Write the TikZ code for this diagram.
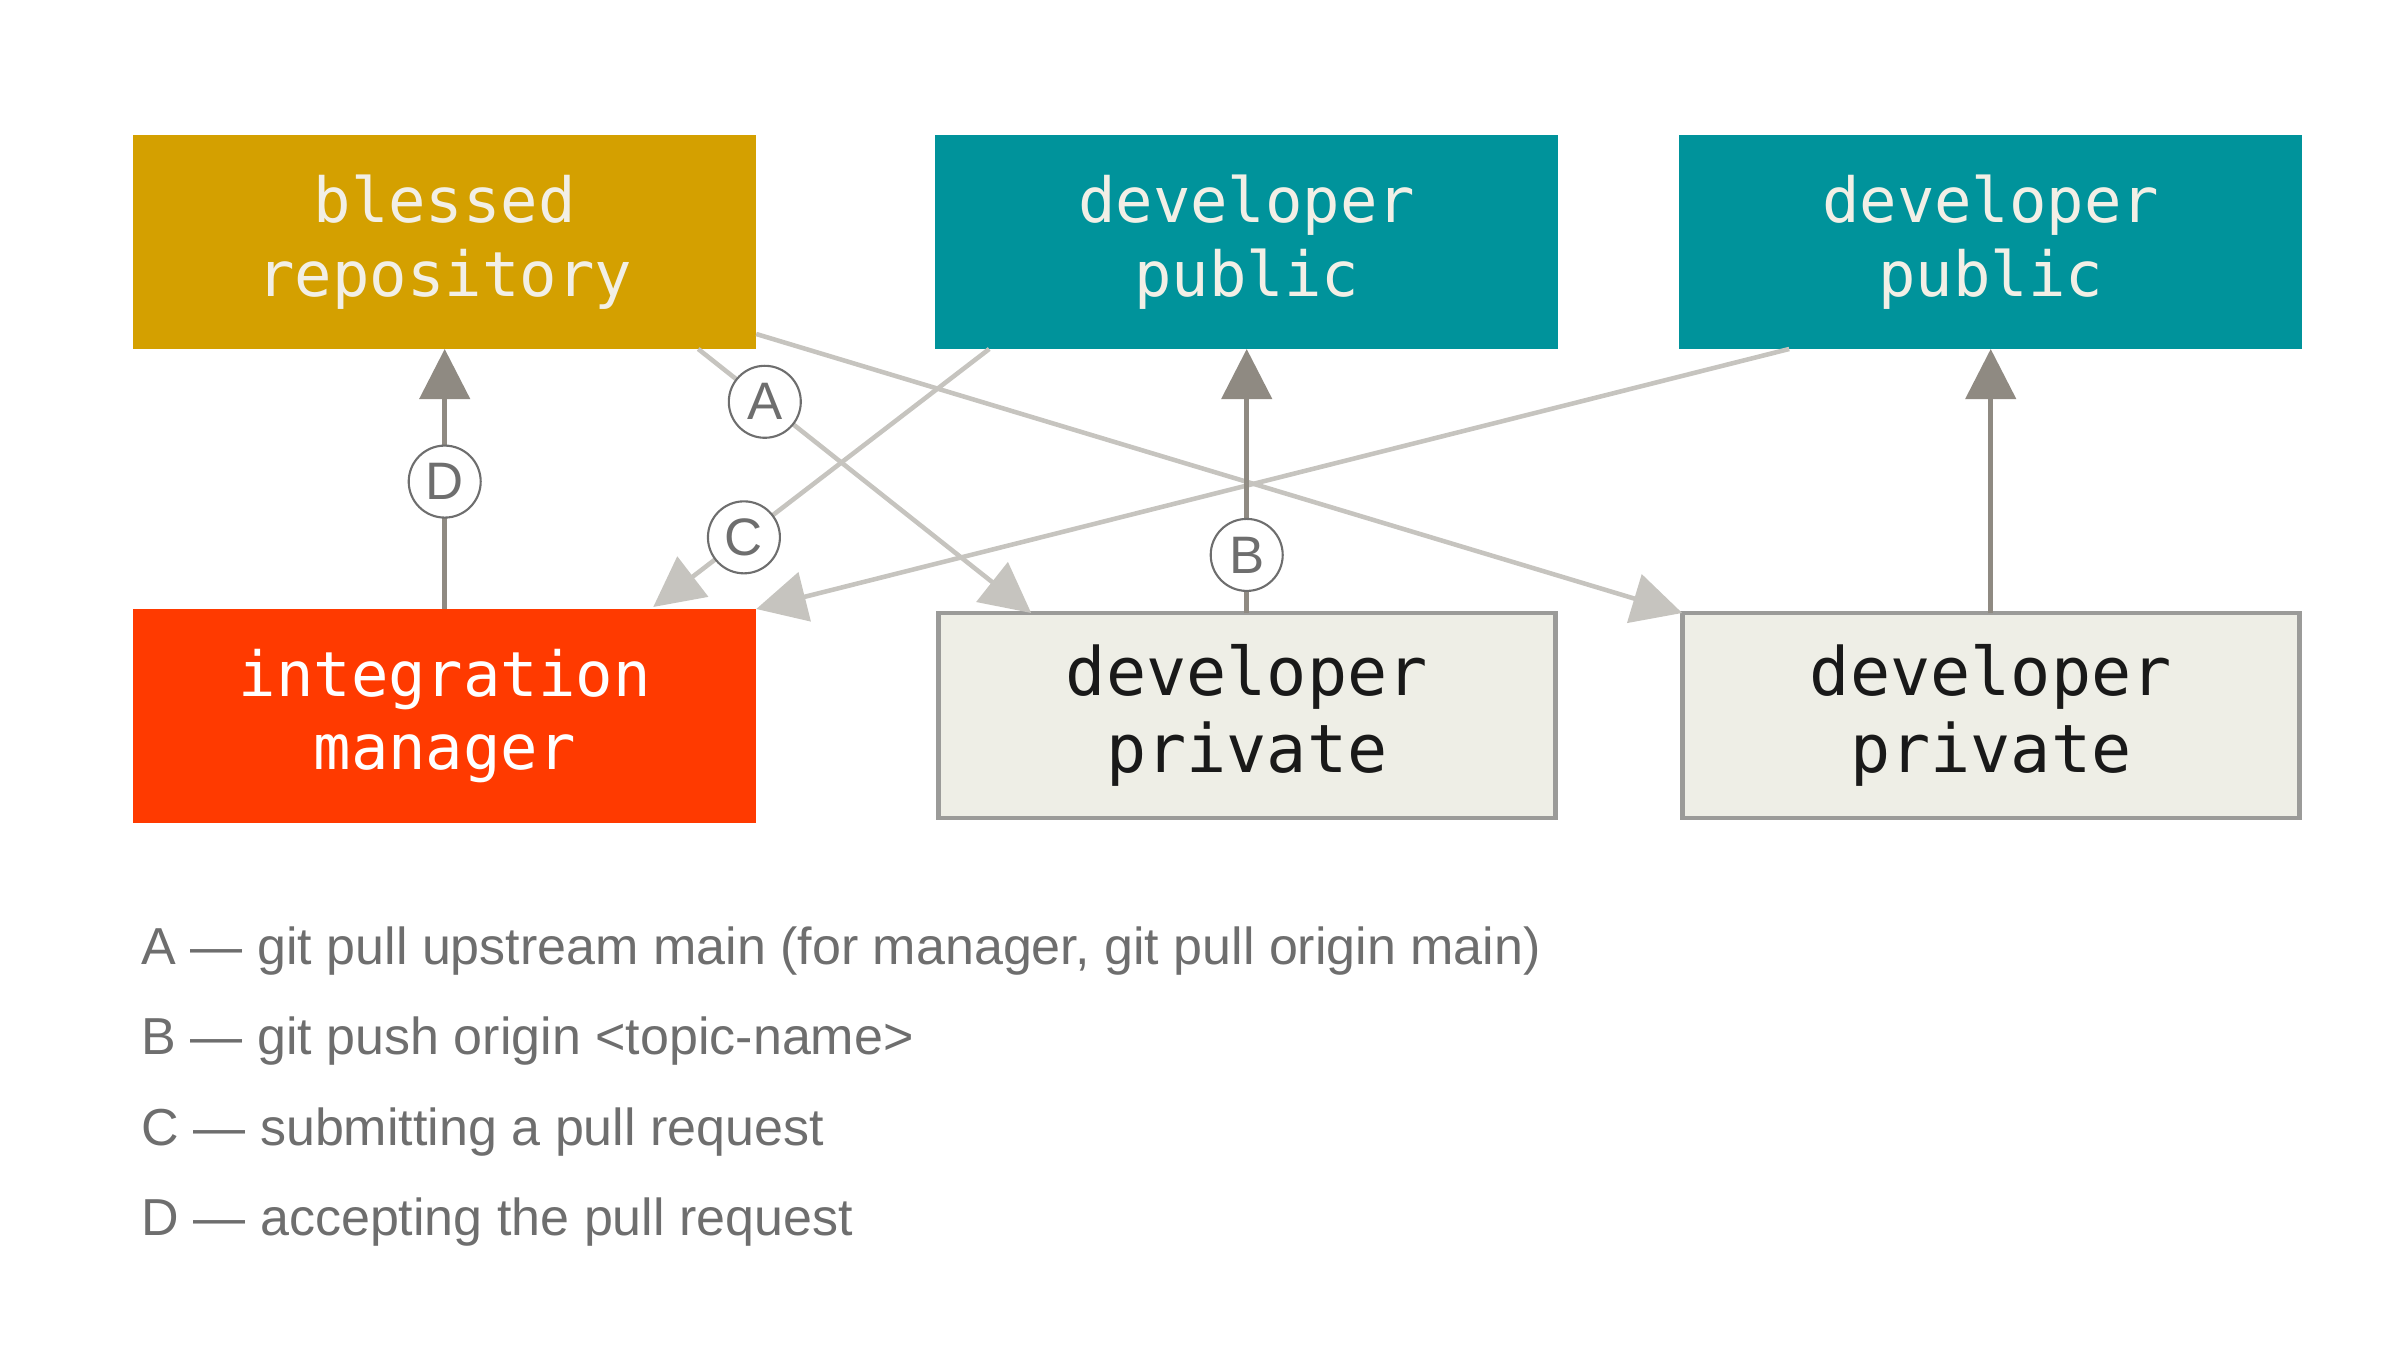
\documentclass[tikz,border=0pt]{standalone}
\usepackage{fontspec}
\usepackage{tikz}
\usetikzlibrary{positioning,arrows.meta}
\setmainfont{Liberation Sans}
\newfontfamily\boxfont{DejaVu Sans Mono}
\definecolor{blessedcol}{HTML}{D4A000}
\definecolor{publiccol}{HTML}{00939B}
\definecolor{managercol}{HTML}{FF3A00}
\definecolor{privatecol}{HTML}{EEEEE6}
\definecolor{privateline}{HTML}{9B9B99}
\definecolor{darkarrow}{HTML}{8F8A82}
\definecolor{lightarrow}{HTML}{C6C4BF}
\definecolor{labelgray}{HTML}{6E6E6E}
\definecolor{boxtext}{HTML}{F2EFE6}
\tikzstyle{repo} = [rectangle, minimum width=6.23cm, minimum height=2.14cm, inner sep=0pt, outer sep=0pt, align=center, font=\boxfont\fontsize{17.7}{21}\selectfont]
\tikzstyle{blessedbox} = [repo, fill=blessedcol, text=boxtext]
\tikzstyle{publicbox} = [repo, fill=publiccol, text=boxtext]
\tikzstyle{managerbox} = [repo, fill=managercol, text=white]
\tikzstyle{privatebox} = [repo, fill=privatecol, draw=privateline, line width=1.4pt, text=black!90, minimum width=6.17cm, minimum height=2.05cm, font=\boxfont\fontsize{19}{22}\selectfont]
\tikzstyle{letter} = [circle, draw=labelgray, fill=white, line width=0.6pt, minimum size=0.72cm, inner sep=0pt, text=labelgray, font=\fontsize{15}{15}\selectfont]
\tikzstyle{dark} = [draw=darkarrow, line width=1.3pt]
\tikzstyle{light} = [draw=lightarrow, line width=1.3pt]
\tikzstyle{legend} = [anchor=base west, inner sep=0pt, text=labelgray, font=\fontsize{14.8}{18}\selectfont]

\begin{document}
\begin{tikzpicture}[->,>={Triangle[length=5mm,width=5mm]},node distance=1.8cm]
  \useasboundingbox (0,0) rectangle (24,13.5);
  \node[blessedbox] (blessed) at (4.447,11.08) {blessed\\repository};
  \node[publicbox] (public_one) [right=1.79cm of blessed] {developer\\public};
  \node[publicbox] (public_two) [right=1.21cm of public_one] {developer\\public};
  \node[managerbox] (manager) [below=2.6cm of blessed] {integration\\manager};
  \node[privatebox] (private_one) [below=2.64cm of public_one] {developer\\private};
  \node[privatebox] (private_two) [below=2.64cm of public_two] {developer\\private};

  \path ([xshift=-0.58cm]blessed.south east) edge[light] node[letter,pos=0.2] {A} ([xshift=0.93cm]private_one.north west);
  \path ([yshift=0.15cm]blessed.south east) edge[light] (private_two.north west);
  \path ([xshift=0.54cm]public_one.south west) edge[light] node[letter,pos=0.73] {C} ([xshift=-1.03cm,yshift=0.02cm]manager.north east);
  \path ([xshift=1.1cm]public_two.south west) edge[light] (manager.north east);
  \path (manager) edge[dark] node[letter,pos=0.49] {D} (blessed);
  \path (private_one) edge[dark] node[letter,pos=0.22] {B} (public_one);
  \path (private_two) edge[dark] (public_two);

  \node[legend] (legend_a) at (1.41,3.86) {A — git pull upstream main (for manager, git pull origin main)};
  \node[legend] (legend_b) at (1.41,2.96) {B — git push origin <topic-name>};
  \node[legend] (legend_c) at (1.41,2.05) {C — submitting a pull request};
  \node[legend] (legend_d) at (1.41,1.15) {D — accepting the pull request};
\end{tikzpicture}
\end{document}
